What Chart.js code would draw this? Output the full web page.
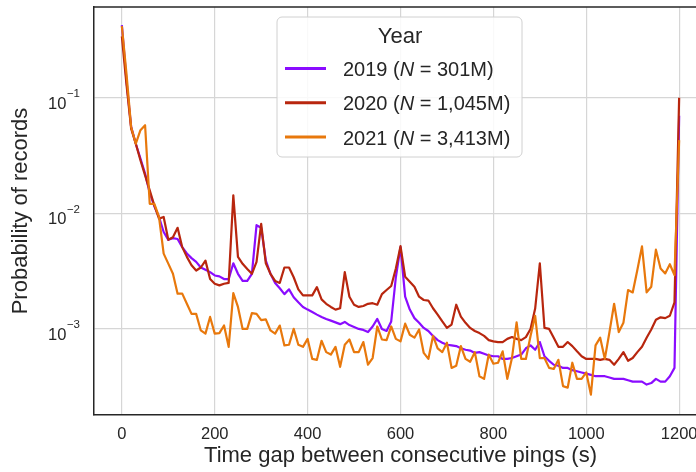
<!DOCTYPE html>
<html>
<head>
<meta charset="utf-8">
<style>
  html, body { margin: 0; padding: 0; overflow: hidden; background: #ffffff; }
  #wrap { position: relative; width: 710px; height: 472px; }
</style>
<script src="https://cdn.jsdelivr.net/npm/chart.js@4"></script>
</head>
<body>
<div id="wrap"><canvas id="chart" width="710" height="472"></canvas></div>
<script>
// Time-gap bins (seconds), one every 10 s from 0 to 1200
const gapSeconds = Array.from({ length: 121 }, (_, i) => i * 10);

// Share of records in each gap bin, per year
const share2019 = [
  0.425, 0.14, 0.056, 0.040, 0.0298, 0.0221, 0.0150, 0.0115, 0.0093, 0.0069,
  0.0059, 0.0061, 0.0060, 0.0051, 0.0045, 0.0041, 0.0038, 0.0034, 0.00325, 0.0031,
  0.0029, 0.00285, 0.0027, 0.0027, 0.0037, 0.0030, 0.0026, 0.0026, 0.0030, 0.0079,
  0.0075, 0.0039, 0.0030, 0.0025, 0.00225, 0.0020, 0.0022, 0.00188, 0.0017, 0.00155,
  0.00147, 0.0014, 0.00133, 0.00127, 0.00122, 0.00118, 0.00114, 0.0011, 0.00115, 0.00108,
  0.00104, 0.0010, 0.00098, 0.00094, 0.00105, 0.00122, 0.0010, 0.00096, 0.00116, 0.0028,
  0.0051, 0.0019, 0.00147, 0.00124, 0.00113, 0.00102, 0.00096, 0.00087, 0.0008, 0.00076,
  0.00073, 0.00072, 0.00071, 0.00068, 0.00066, 0.00065, 0.00062, 0.00063, 0.00061, 0.00059,
  0.00058, 0.00058, 0.00055, 0.00055, 0.00056, 0.00058, 0.00060, 0.00068, 0.00072, 0.00066,
  0.00077, 0.00058, 0.00053, 0.00049, 0.00048, 0.00046, 0.00046, 0.00044, 0.00043, 0.00042,
  0.00041, 0.00040, 0.00039, 0.00039, 0.00039, 0.00038, 0.00037, 0.00037, 0.00037, 0.00036,
  0.00035, 0.00035, 0.00035, 0.00033, 0.00034, 0.00037, 0.00035, 0.00035, 0.00039, 0.00046,
  0.07
];
const share2020 = [
  0.34, 0.13, 0.054, 0.040, 0.0288, 0.0213, 0.0158, 0.0117, 0.009, 0.0093,
  0.0059, 0.0062, 0.0075, 0.0051, 0.0042, 0.00355, 0.0032, 0.0034, 0.0039, 0.0027,
  0.00246, 0.00238, 0.00246, 0.0025, 0.0143, 0.0042, 0.00366, 0.0033, 0.0030, 0.0038,
  0.0081, 0.0037, 0.0030, 0.0026, 0.0025, 0.0034, 0.0034, 0.0028, 0.0022, 0.00195,
  0.00195, 0.00195, 0.0023, 0.0018, 0.00165, 0.00155, 0.00147, 0.00151, 0.0031, 0.0019,
  0.00162, 0.00155, 0.00158, 0.00165, 0.00167, 0.00162, 0.0020, 0.00217, 0.00235, 0.00333,
  0.0052, 0.00283, 0.00256, 0.00232, 0.0019, 0.00178, 0.00176, 0.00151, 0.00133, 0.00116,
  0.00102, 0.00109, 0.00162, 0.00128, 0.00113, 0.00102, 0.00096, 0.00092, 0.00087, 0.0008,
  0.00078, 0.00077, 0.00077, 0.00082, 0.00085, 0.00082, 0.0008, 0.00085, 0.0010, 0.0015,
  0.0037, 0.00102, 0.0010, 0.00084, 0.0007, 0.0007, 0.00077, 0.00071, 0.00064, 0.00058,
  0.00055, 0.00055, 0.00055, 0.00054, 0.00055, 0.00054, 0.00049, 0.00055, 0.00063, 0.00053,
  0.00056, 0.00063, 0.0007, 0.00084, 0.00099, 0.0012, 0.00126, 0.00124, 0.0013, 0.0017,
  0.1
];
const share2021 = [
  0.416, 0.16, 0.0558, 0.040, 0.0524, 0.0578, 0.0121, 0.0121, 0.0093, 0.00448,
  0.00367, 0.0030, 0.00202, 0.00202, 0.00165, 0.00135, 0.00135, 0.00097, 0.00091, 0.00127,
  0.00091, 0.00092, 0.00107, 0.0007, 0.00204, 0.00155, 0.0010, 0.0010, 0.00137, 0.00135,
  0.00119, 0.00121, 0.00097, 0.00091, 0.00107, 0.00072, 0.00073, 0.0010, 0.00073, 0.0007,
  0.00082, 0.00055, 0.00054, 0.00079, 0.00063, 0.0006, 0.0007, 0.00047, 0.00073, 0.00081,
  0.00063, 0.00063, 0.00077, 0.00049, 0.00056, 0.00105, 0.00081, 0.0008, 0.00105, 0.00082,
  0.00078, 0.00111, 0.00089, 0.00084, 0.00099, 0.00062, 0.00055, 0.00087, 0.00068, 0.00063,
  0.00076, 0.00046, 0.00048, 0.00071, 0.00055, 0.00052, 0.00063, 0.00039, 0.00037, 0.0006,
  0.0005, 0.00051, 0.00064, 0.00037, 0.00056, 0.00114, 0.00055, 0.00055, 0.00087, 0.0013,
  0.00056, 0.00056, 0.00046, 0.00045, 0.00054, 0.00032, 0.00031, 0.00051, 0.00037, 0.00037,
  0.00042, 0.00027, 0.00072, 0.00084, 0.00055, 0.00094, 0.00165, 0.00094, 0.00113, 0.00217,
  0.00207, 0.00323, 0.00518, 0.00207, 0.00232, 0.00485, 0.00333, 0.00302, 0.00363, 0.00292,
  0.043
];

const years = ['2019', '2020', '2021'];
const recordCounts = ['301M', '1,045M', '3,413M'];
const lineColors = ['#8a0cff', '#b8260e', '#e8780c'];

const xTicks = [0, 200, 400, 600, 800, 1000, 1200];
const yTicks = [1e-3, 1e-2, 1e-1];
const yTickExponents = ['\u22123', '\u22122', '\u22121'];

const FONT = '"Liberation Sans", Arial, Helvetica, sans-serif';
const INK = '#262626';
const GRID = '#d6d6d6';

const seriesValues = [share2019, share2020, share2021];
const datasets = seriesValues.map((vals, k) => ({
  label: years[k] + ' (N = ' + recordCounts[k] + ')',
  data: gapSeconds.map((g, i) => ({ x: g, y: vals[i] })),
  borderColor: lineColors[k],
  borderWidth: 2.2,
  pointRadius: 0,
  tension: 0,
  fill: false,
  order: 2 - k,
  borderJoinStyle: 'round'
}));

// Frame top edge, superscript log labels and the boxed legend
const decorations = {
  id: 'decorations',
  afterDraw(chart) {
    const { ctx, chartArea: a } = chart;
    const yScale = chart.scales.y;
    ctx.save();

    // top spine
    ctx.strokeStyle = INK;
    ctx.lineWidth = 1.5;
    ctx.beginPath();
    ctx.moveTo(a.left - 0.75, a.top);
    ctx.lineTo(a.right, a.top);
    ctx.stroke();

    // y tick labels as 10 with a raised exponent
    ctx.fillStyle = INK;
    ctx.textAlign = 'right';
    ctx.textBaseline = 'alphabetic';
    const rightEdge = a.left - 14;
    yTicks.forEach((v, i) => {
      const py = yScale.getPixelForValue(v);
      ctx.font = '11.5px ' + FONT;
      const ew = ctx.measureText(yTickExponents[i]).width;
      ctx.fillText(yTickExponents[i], rightEdge, py - 0.5);
      ctx.font = '16.5px ' + FONT;
      ctx.fillText('10', rightEdge - ew - 0.5, py + 10.8);
    });

    // legend
    const box = { x: 277, y: 17, w: 245, h: 140, r: 5 };
    ctx.beginPath();
    ctx.moveTo(box.x + box.r, box.y);
    ctx.arcTo(box.x + box.w, box.y, box.x + box.w, box.y + box.h, box.r);
    ctx.arcTo(box.x + box.w, box.y + box.h, box.x, box.y + box.h, box.r);
    ctx.arcTo(box.x, box.y + box.h, box.x, box.y, box.r);
    ctx.arcTo(box.x, box.y, box.x + box.w, box.y, box.r);
    ctx.closePath();
    ctx.fillStyle = 'rgba(255,255,255,0.85)';
    ctx.fill();
    ctx.strokeStyle = '#d0d0d0';
    ctx.lineWidth = 1;
    ctx.stroke();

    ctx.fillStyle = INK;
    ctx.textAlign = 'center';
    ctx.font = '22px ' + FONT;
    ctx.fillText('Year', box.x + box.w / 2 + 0.5, 43);

    ctx.textAlign = 'left';
    years.forEach((yr, k) => {
      const ly = 68.5 + k * 34.2;
      ctx.strokeStyle = lineColors[k];
      ctx.lineWidth = 3;
      ctx.beginPath();
      ctx.moveTo(285, ly);
      ctx.lineTo(326, ly);
      ctx.stroke();

      let tx = 343;
      const by = ly + 7.6;
      ctx.fillStyle = INK;
      ctx.font = '20px ' + FONT;
      const p1 = yr + ' (';
      ctx.fillText(p1, tx, by);
      tx += ctx.measureText(p1).width;
      ctx.font = 'italic 20px ' + FONT;
      ctx.fillText('N', tx, by);
      tx += ctx.measureText('N').width;
      ctx.font = '20px ' + FONT;
      ctx.fillText(' = ' + recordCounts[k] + ')', tx, by);
    });

    ctx.restore();
  }
};

new Chart(document.getElementById('chart'), {
  type: 'line',
  data: { datasets },
  options: {
    responsive: false,
    animation: false,
    events: [],
    layout: { padding: { left: 0, top: 7, right: 3, bottom: 0 } },
    plugins: { legend: { display: false }, tooltip: { enabled: false } },
    scales: {
      x: {
        type: 'linear',
        min: -60,
        max: 1260,
        afterBuildTicks: s => { s.ticks = xTicks.map(v => ({ value: v })); },
        afterFit: s => { s.height = 57; },
        grid: { color: GRID, lineWidth: 1.2, drawTicks: false },
        border: { display: true, color: INK, width: 1.5 },
        ticks: {
          color: INK, font: { family: FONT, size: 16.5 }, padding: 10,
          maxRotation: 0, autoSkip: false, callback: v => String(v)
        },
        title: {
          display: true, text: 'Time gap between consecutive pings (s)',
          color: INK, font: { family: FONT, size: 22 }, padding: { top: 0, bottom: 3 }
        }
      },
      y: {
        type: 'logarithmic',
        min: 1.8e-4,
        max: 0.61,
        afterBuildTicks: s => { s.ticks = yTicks.map(v => ({ value: v })); },
        afterFit: s => { s.width = 94; },
        grid: { color: GRID, lineWidth: 1.2, drawTicks: false },
        border: { display: true, color: INK, width: 1.5 },
        ticks: { display: false },
        title: {
          display: true, text: 'Probability of records',
          color: INK, font: { family: FONT, size: 22 }, padding: { top: 8, bottom: 0 }
        }
      }
    }
  },
  plugins: [decorations]
});
</script>
</body>
</html>
